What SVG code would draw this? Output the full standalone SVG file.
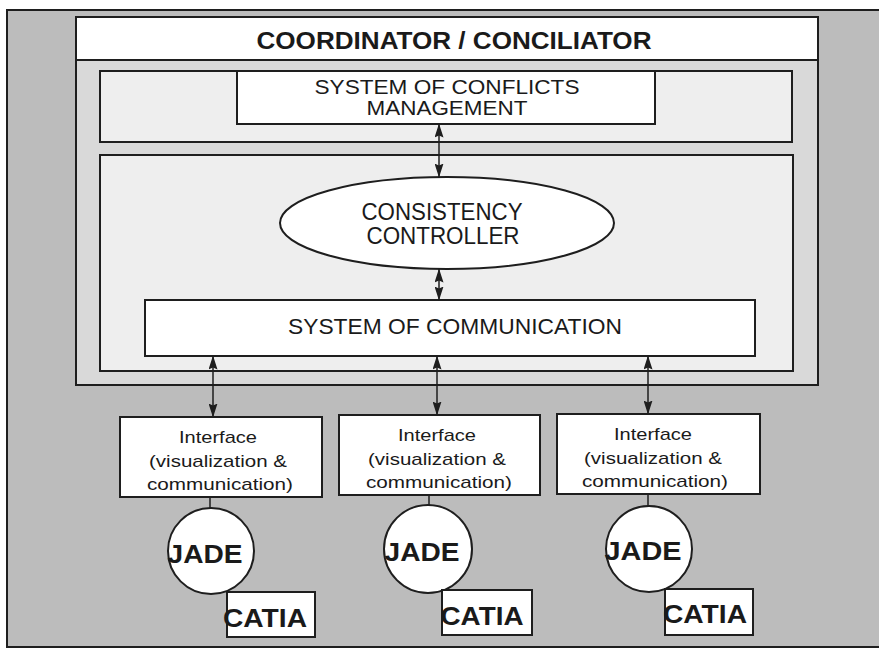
<svg xmlns="http://www.w3.org/2000/svg" width="879" height="649" viewBox="0 0 879 649">
<style>
  .bx{stroke:#1e1e1e;stroke-width:2;}
  .w{fill:#ffffff;}
  .t{font-family:"Liberation Sans",Arial,sans-serif;fill:#1a1a1a;text-anchor:middle;}
  .b{font-weight:bold;}
  .ln{stroke:#1e1e1e;stroke-width:1.5;fill:none;}
  .arr{stroke:#1e1e1e;stroke-width:1.5;fill:none;marker-start:url(#ah);marker-end:url(#ah);}
</style>
<defs>
  <marker id="ah" viewBox="0 0 14 9" refX="13.5" refY="4.5" markerWidth="14" markerHeight="9" markerUnits="userSpaceOnUse" orient="auto-start-reverse">
    <path d="M0,0 L14,4.5 L0,9 L2,4.5 z" fill="#1e1e1e"/>
  </marker>
</defs>
<rect x="0" y="0" width="879" height="649" fill="#ffffff"/>
<g id="frame">
  <rect x="7" y="10" width="880" height="637" fill="#bcbcbc" class="bx"/>
</g>
<g id="coordinator">
  <rect x="76" y="17" width="742" height="368" fill="#d9d9d9" class="bx"/>
  <rect x="76" y="17" width="742" height="43" class="w bx"/>
  <text class="t b" x="454" y="49" font-size="24" textLength="395" lengthAdjust="spacingAndGlyphs">COORDINATOR / CONCILIATOR</text>
</g>
<g id="conflicts-area">
  <rect x="100" y="71" width="692" height="71" fill="#eeeeee" class="bx"/>
</g>
<g id="conflicts">
  <rect x="237" y="71" width="418" height="53" class="w bx"/>
  <text class="t" x="447" y="94" font-size="21" textLength="265" lengthAdjust="spacingAndGlyphs">SYSTEM OF CONFLICTS</text>
  <text class="t" x="447" y="115" font-size="21" textLength="161" lengthAdjust="spacingAndGlyphs">MANAGEMENT</text>
</g>
<g id="main-area">
  <rect x="100" y="155" width="693" height="216" fill="#eeeeee" class="bx"/>
</g>
<g id="consistency">
  <ellipse cx="447" cy="223" rx="167" ry="46" class="w bx" stroke-width="1.5"/>
  <text class="t" x="442" y="220" font-size="23" textLength="161" lengthAdjust="spacingAndGlyphs">CONSISTENCY</text>
  <text class="t" x="443" y="244" font-size="23" textLength="153" lengthAdjust="spacingAndGlyphs">CONTROLLER</text>
</g>
<g id="communication">
  <rect x="145" y="300" width="610" height="56" class="w bx" stroke-width="1.5"/>
  <text class="t" x="455" y="334" font-size="22" textLength="334" lengthAdjust="spacingAndGlyphs">SYSTEM OF COMMUNICATION</text>
</g>
<g id="connectors">
  <line class="arr" x1="439" y1="124" x2="439" y2="177"/>
  <line class="arr" x1="439" y1="269" x2="439" y2="300"/>
  <line class="arr" x1="213" y1="356" x2="213" y2="417"/>
  <line class="arr" x1="437" y1="356" x2="437" y2="415"/>
  <line class="arr" x1="648" y1="356" x2="648" y2="414"/>
  <line class="ln" x1="210" y1="497" x2="210" y2="509"/>
  <line class="ln" x1="429" y1="495" x2="429" y2="506"/>
  <line class="ln" x1="648" y1="494" x2="648" y2="506"/>
</g>
<g id="interface1">
  <rect x="120" y="417" width="202" height="80" class="w bx"/>
  <text class="t" x="218" y="443" font-size="17" textLength="78" lengthAdjust="spacingAndGlyphs">Interface</text>
  <text class="t" x="218" y="467" font-size="17" textLength="138" lengthAdjust="spacingAndGlyphs">(visualization &amp;</text>
  <text class="t" x="220" y="490" font-size="17" textLength="146" lengthAdjust="spacingAndGlyphs">communication)</text>
</g>
<g id="interface2">
  <rect x="339" y="415" width="201" height="80" class="w bx"/>
  <text class="t" x="437" y="441" font-size="17" textLength="78" lengthAdjust="spacingAndGlyphs">Interface</text>
  <text class="t" x="437" y="465" font-size="17" textLength="138" lengthAdjust="spacingAndGlyphs">(visualization &amp;</text>
  <text class="t" x="439" y="488" font-size="17" textLength="146" lengthAdjust="spacingAndGlyphs">communication)</text>
</g>
<g id="interface3">
  <rect x="557" y="414" width="203" height="80" class="w bx"/>
  <text class="t" x="653" y="440" font-size="17" textLength="78" lengthAdjust="spacingAndGlyphs">Interface</text>
  <text class="t" x="653" y="464" font-size="17" textLength="138" lengthAdjust="spacingAndGlyphs">(visualization &amp;</text>
  <text class="t" x="655" y="487" font-size="17" textLength="146" lengthAdjust="spacingAndGlyphs">communication)</text>
</g>
<g id="jade1">
  <circle cx="211" cy="551" r="43" class="w bx" stroke-width="1.5"/>
  <text class="t b" x="205" y="563" font-size="26" textLength="75" lengthAdjust="spacingAndGlyphs">JADE</text>
</g>
<g id="jade2">
  <circle cx="428" cy="549" r="44" class="w bx" stroke-width="1.5"/>
  <text class="t b" x="422" y="561" font-size="26" textLength="75" lengthAdjust="spacingAndGlyphs">JADE</text>
</g>
<g id="jade3">
  <circle cx="649" cy="549" r="43" class="w bx" stroke-width="1.5"/>
  <text class="t b" x="643" y="560" font-size="26" textLength="77" lengthAdjust="spacingAndGlyphs">JADE</text>
</g>
<g id="catia1">
  <rect x="227" y="592" width="88" height="45" class="w bx" stroke-width="1.5"/>
  <text class="t b" x="265" y="627" font-size="26" textLength="84" lengthAdjust="spacingAndGlyphs">CATIA</text>
</g>
<g id="catia2">
  <rect x="442" y="590" width="90" height="45" class="w bx" stroke-width="1.5"/>
  <text class="t b" x="482" y="625" font-size="26" textLength="83" lengthAdjust="spacingAndGlyphs">CATIA</text>
</g>
<g id="catia3">
  <rect x="665" y="589" width="88" height="46" class="w bx" stroke-width="1.5"/>
  <text class="t b" x="705" y="623" font-size="26" textLength="84" lengthAdjust="spacingAndGlyphs">CATIA</text>
</g>
</svg>
